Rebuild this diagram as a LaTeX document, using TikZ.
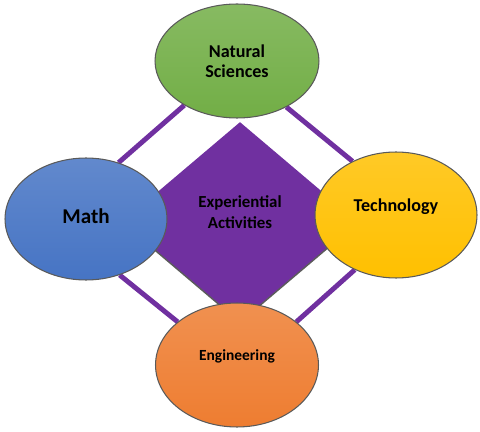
\documentclass[tikz,border=0pt]{standalone}
\usepackage{fontspec}
\setmainfont{Carlito}
\usetikzlibrary{shapes.geometric, backgrounds}
\definecolor{stgreen}{RGB}{114, 174, 70}
\definecolor{stblue}{RGB}{70, 116, 196}
\definecolor{styellow}{RGB}{255, 192, 0}
\definecolor{storange}{RGB}{238, 125, 49}
\definecolor{stpurple}{RGB}{112, 48, 160}
\definecolor{stedge}{RGB}{90, 90, 90}

\begin{document}
\begin{tikzpicture}[x=0.02cm, y=-0.02cm,
    every node/.style={font=\bfseries, text=black},
    every label/.style={font=\bfseries, text=black, align=center, inner sep=0pt},
    field/.style={ellipse, draw=stedge, line width=0.6pt, inner sep=0pt, align=center},
    link/.style={stpurple, line width=2.8pt}]
  \useasboundingbox (0,0) rectangle (480,432);

  % Centre diamond
  \node[diamond, fill=stpurple, minimum width=4.72cm, minimum height=4cm, inner sep=0pt,
        label={[yshift=5.7pt, font=\fontsize{9.6}{12}\selectfont\bfseries]center:Experiential\\Activities}]
    (exp) at (240,222) {};
  \draw[stedge, line width=0.8pt] (exp.west) -- (exp.south) -- (exp.east);

  % The four fields
  \node[field, top color=stgreen!85!white, bottom color=stgreen, minimum width=3.28cm, minimum height=2.28cm,
        font=\fontsize{10.3}{11.6}\selectfont\bfseries] (nat) at (237,61) {Natural\\Sciences};
  \node[field, top color=stblue!85!white, bottom color=stblue, minimum width=3.24cm, minimum height=2.44cm,
        label={[yshift=1.7pt, font=\fontsize{12}{14}\selectfont\bfseries]center:Math}] (math) at (86,219) {};
  \node[field, top color=styellow!85!white, bottom color=styellow, minimum width=3.24cm, minimum height=2.52cm,
        label={[yshift=4.5pt, font=\fontsize{10.3}{12.8}\selectfont\bfseries]center:Technology}] (tech) at (396,215) {};
  \node[field, top color=storange!85!white, bottom color=storange, minimum width=3.26cm, minimum height=2.48cm,
        label={[yshift=5pt, font=\fontsize{8.8}{11}\selectfont\bfseries]center:Engineering}] (eng) at (237,365) {};

  % Outer links
  \begin{pgfonlayer}{background}
    \draw[link] (math.60) -- (nat.220);
    \draw[link] (nat.317) -- (tech.129);
    \draw[link] (tech.233) -- (eng.36);
    \draw[link] (eng.144) -- (math.301);
  \end{pgfonlayer}
\end{tikzpicture}
\end{document}
